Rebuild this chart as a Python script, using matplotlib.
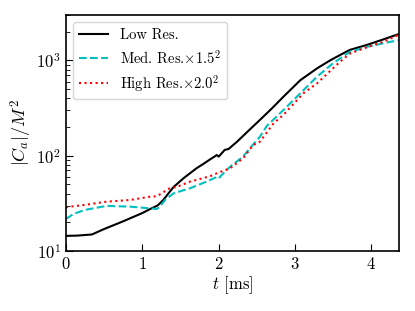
import numpy as np
import matplotlib.pyplot as plt

plt.rcParams['font.family'] = 'serif'
plt.rcParams['font.serif'] = ['cmr10']
plt.rcParams['mathtext.fontset'] = 'cm'
plt.rcParams['axes.formatter.use_mathtext'] = True

# ===== data =====
t_low = [0.0, 0.15, 0.34, 0.50, 0.75, 1.00, 1.10, 1.20, 1.275, 1.34, 1.41, 1.54, 1.71,
         1.80, 1.89, 1.93, 1.975, 2.00, 2.04, 2.08, 2.13, 2.24, 2.41, 2.54, 2.70,
         2.85, 3.07, 3.29, 3.46, 3.60, 3.72, 3.95, 4.16, 4.36]
c_low = [14.4, 14.5, 14.9, 17.0, 20.5, 25.0, 27.5, 30.0, 34.3, 40.0, 47.0, 58.0, 73.8,
         82.0, 91.7, 96.0, 101.6, 97.7, 106.0, 115.0, 117.6, 140.0, 189.0, 237.0, 315.0,
         417.0, 620.0, 826.0, 1000.0, 1150.0, 1290.0, 1460.0, 1664.0, 1890.0]

t_med = [0.0, 0.10, 0.25, 0.53, 0.84, 1.10, 1.19, 1.23, 1.30, 1.41, 1.625, 1.84, 1.97,
         2.00, 2.03, 2.15, 2.32, 2.41, 2.54, 2.63, 2.85, 3.07, 3.29, 3.50, 3.72,
         3.95, 4.16, 4.36]
c_med = [21.7, 24.5, 27.0, 29.7, 29.2, 28.0, 27.6, 29.2, 34.5, 40.3, 45.5, 53.4, 59.5,
         57.5, 61.5, 76.7, 97.7, 120.0, 158.0, 205.0, 302.0, 452.0, 676.0, 935.0, 1230.0,
         1390.0, 1515.0, 1630.0]

t_high = [0.0, 0.25, 0.53, 0.84, 1.10, 1.19, 1.36, 1.45, 1.625, 1.89, 1.975, 2.15,
          2.32, 2.45, 2.54, 2.72, 2.85, 3.11, 3.29, 3.59, 3.72, 3.95, 4.16, 4.36]
c_high = [28.8, 30.5, 32.9, 34.3, 37.1, 37.5, 45.5, 47.0, 53.4, 61.0, 65.3, 73.8,
          94.0, 129.0, 140.0, 219.0, 269.0, 452.0, 575.0, 968.0, 1180.0, 1380.0, 1570.0, 1860.0]

fig = plt.figure(figsize=(4.15, 3.11), dpi=100)
ax = fig.add_axes([0.159, 0.193, 0.802, 0.759])

ax.plot(t_low, c_low, color='k', ls='-', lw=1.5, label='Low Res.')
ax.plot(t_med, c_med, color='c', ls='--', lw=1.5, label=r'Med. Res.$\times1.5^2$')
ax.plot(t_high, c_high, color='r', ls=':', lw=1.5, label=r'High Res.$\times2.0^2$')

ax.set_yscale('log')
ax.set_xlim(0, 4.36)
ax.set_ylim(10, 3000)
ax.set_xticks([0, 1, 2, 3, 4])
ax.tick_params(which='both', direction='in', labelsize=12)
ax.tick_params(which='major', length=5)
ax.tick_params(which='minor', length=3)
for s in ax.spines.values():
    s.set_linewidth(1.2)

ax.set_xlabel(r'$t$ [ms]', fontsize=12, labelpad=2)
ax.set_ylabel(r'$|C_a|/M^2$', fontsize=13, labelpad=2)
ax.legend(loc='upper left', fontsize=10.5, labelspacing=0.45)

fig.savefig('out.png', dpi=100)
